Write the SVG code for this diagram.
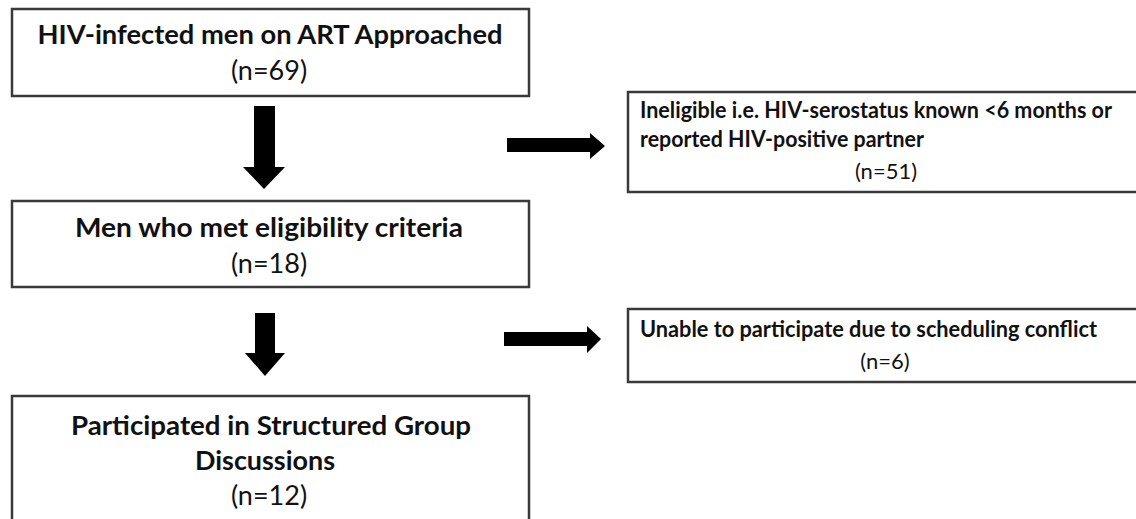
<svg xmlns="http://www.w3.org/2000/svg" width="1136" height="519" viewBox="0 0 1136 519">
<style>
.box{fill:#fff;stroke:#3a3a3a;stroke-width:2.5}
.t{font-family:Lato,"Liberation Sans",sans-serif;fill:#111}
.big{font-size:27px}
.sm{font-size:22px}
.b{font-weight:700}
.c{text-anchor:middle}
.arr{fill:#000}
</style>
<rect width="1136" height="519" fill="#fff"/>
<g id="node-approached">
<rect class="box" x="12" y="9" width="517" height="87"/>
<text class="t big b c" x="270" y="44" textLength="465" lengthAdjust="spacingAndGlyphs">HIV-infected men on ART Approached</text>
<text class="t big c" x="269" y="80">(n=69)</text>
</g>
<g id="node-eligible">
<rect class="box" x="12" y="201" width="517" height="86"/>
<text class="t big b c" x="269" y="237" textLength="388" lengthAdjust="spacingAndGlyphs">Men who met eligibility criteria</text>
<text class="t big c" x="269" y="273">(n=18)</text>
</g>
<g id="node-participated">
<rect class="box" x="12" y="396" width="517" height="140"/>
<text class="t big b c" x="271" y="435" textLength="400" lengthAdjust="spacingAndGlyphs">Participated in Structured Group</text>
<text class="t big b c" x="265" y="470" textLength="140" lengthAdjust="spacingAndGlyphs">Discussions</text>
<text class="t big c" x="269" y="505">(n=12)</text>
</g>
<g id="node-ineligible">
<rect class="box" x="628" y="92" width="530" height="100"/>
<text class="t sm b" x="640" y="118" textLength="472" lengthAdjust="spacingAndGlyphs">Ineligible i.e. HIV-serostatus known &lt;6 months or</text>
<text class="t sm b" x="640" y="147" textLength="284" lengthAdjust="spacingAndGlyphs">reported HIV-positive partner</text>
<text class="t sm c" x="886" y="179">(n=51)</text>
</g>
<g id="node-unable">
<rect class="box" x="628" y="309" width="530" height="73"/>
<text class="t sm b" x="640" y="337" textLength="457" lengthAdjust="spacingAndGlyphs">Unable to participate due to scheduling conflict</text>
<text class="t sm c" x="885" y="369">(n=6)</text>
</g>
<g id="connectors">
<polygon class="arr" points="254,106 275,106 275,167 285,167 264,189 243,167 254,167"/>
<polygon class="arr" points="255,313 275,313 275,353 285,353 265,376 245,353 255,353"/>
<polygon class="arr" points="507,138 590,138 590,133 605,146 590,159 590,152 507,152"/>
<polygon class="arr" points="504,332 587,332 587,326 601,339 587,353 587,346 504,346"/>
</g>
</svg>
